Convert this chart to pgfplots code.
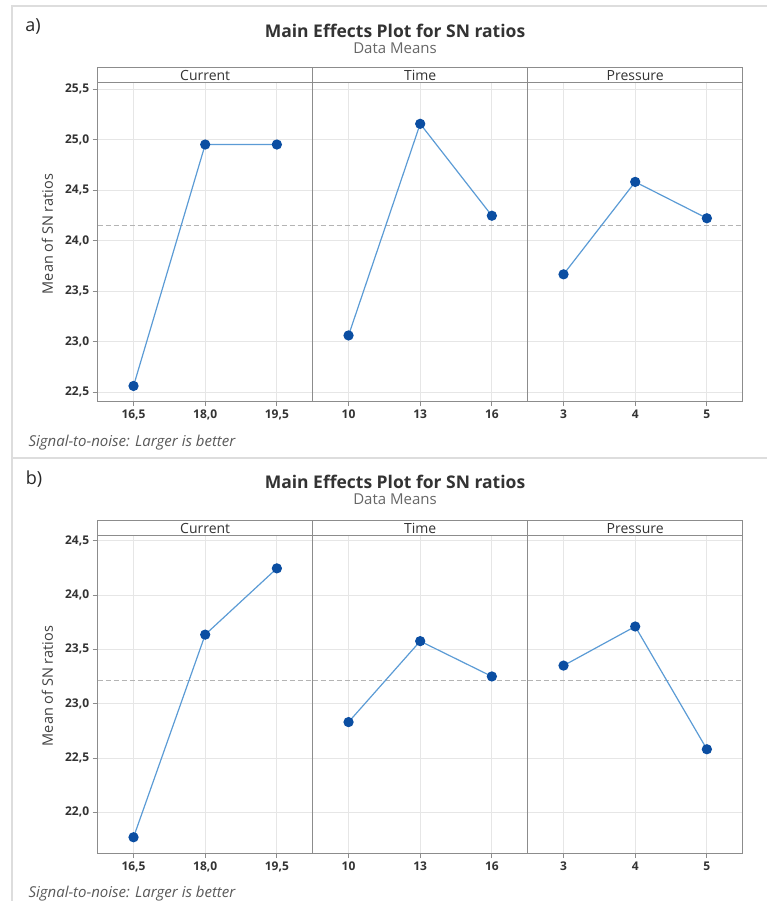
\documentclass[border=0pt]{standalone}
\usepackage{pgfplots}
\pgfplotsset{compat=1.18}
\usepackage{fontspec}
\setmainfont{Open Sans}
\definecolor{framec}{HTML}{8C8C8C}
\definecolor{gridc}{HTML}{E6E6E6}
\definecolor{lineblue}{HTML}{5B9BD5}
\definecolor{markblue}{HTML}{0B4EA2}
\definecolor{meanc}{HTML}{B4B4B4}
\definecolor{txt}{HTML}{333333}
\definecolor{borderc}{HTML}{DDDDDD}

\pgfplotsset{
 mep/.style={
  scale only axis, width=215pt, height=318pt,
  xmin=-0.5, xmax=2.5, xtick={0,1,2},
  axis line style={framec, line width=1pt},
  grid=major, major grid style={gridc, line width=0.8pt},
  tick style={framec, line width=0.8pt},
  tick align=outside, major tick length=5pt,
  xtick pos=bottom, ytick pos=left,
  ticklabel style={font=\fontsize{12}{13}\selectfont\bfseries, text=txt},
  /pgf/number format/assume math mode=true,
  yticklabel style={/pgf/number format/.cd, fixed, fixed zerofill, precision=1, use comma},
  clip=false,
 },
 mid/.style={yticklabels={}, ytick style={draw=none}},
 ser/.style={lineblue, line width=1.2pt, mark=*, mark size=4.5pt, mark options={fill=markblue, draw=markblue, solid}},
 meanl/.style={meanc, line width=1pt, dash pattern=on 5pt off 3pt, forget plot},
}
\tikzset{hdr/.style={anchor=base, font=\fontsize{14}{15}\selectfont, text=txt}}

\begin{document}
\begin{tikzpicture}[x=1pt, y=-1pt]
\useasboundingbox (0,0) rectangle (767,901);
% outer borders
\draw[borderc, line width=1.5pt] (12,901) -- (12,6) -- (767,6);
\draw[borderc, line width=1.5pt] (12,458) -- (767,458);

% ================= panel a =================
\node[font=\fontsize{18}{20}\selectfont, text=black!85] at (33,27) {a)};
\node[font=\fontsize{17.5}{19}\selectfont\bfseries, text=txt] at (395,31) {Main Effects Plot for SN ratios};
\node[font=\fontsize{15}{16}\selectfont, text=black!60] at (395,48) {Data Means};
\node[font=\fontsize{14.5}{16}\selectfont, text=black!75, rotate=90] at (47.5,234) {Mean of SN ratios};
\node[anchor=west, font=\fontsize{15}{16}\selectfont\itshape, text=black!65] at (25,443) {Signal-to-noise: Larger is better};

\begin{axis}[mep, at={(97.7pt,-401pt)}, anchor=south west,
  ymin=22.411, ymax=25.559, ytick={22.5,23,23.5,24,24.5,25,25.5},
  xticklabels={{16,5},{18,0},{19,5}}]
\addplot[meanl] coordinates {(-0.5,24.153) (2.5,24.153)};
\addplot[ser] coordinates {(0,22.56) (1,24.95) (2,24.95)};
\end{axis}
\begin{axis}[mep, mid, at={(312.7pt,-401pt)}, anchor=south west,
  ymin=22.411, ymax=25.559, ytick={22.5,23,23.5,24,24.5,25,25.5},
  xticklabels={10,13,16}]
\addplot[meanl] coordinates {(-0.5,24.153) (2.5,24.153)};
\addplot[ser] coordinates {(0,23.06) (1,25.155) (2,24.245)};
\end{axis}
\begin{axis}[mep, mid, at={(527.7pt,-401pt)}, anchor=south west,
  ymin=22.411, ymax=25.559, ytick={22.5,23,23.5,24,24.5,25,25.5},
  xticklabels={3,4,5}]
\addplot[meanl] coordinates {(-0.5,24.153) (2.5,24.153)};
\addplot[ser] coordinates {(0,23.665) (1,24.58) (2,24.22)};
\end{axis}
% strip headers a
\draw[framec, line width=1pt] (97.7,83) -- (97.7,68) -- (742.7,68) -- (742.7,83);
\draw[framec, line width=1pt] (312.7,68) -- (312.7,83) (527.7,68) -- (527.7,83);
\draw[framec, line width=1pt] (97.7,83) -- (742.7,83);
\node[hdr] at (205.2,81) {Current};
\node[hdr] at (420.2,81) {Time};
\node[hdr] at (635.2,81) {Pressure};

% ================= panel b =================
\node[font=\fontsize{18}{20}\selectfont, text=black!85] at (34,479) {b)};
\node[font=\fontsize{17.5}{19}\selectfont\bfseries, text=txt] at (395,482) {Main Effects Plot for SN ratios};
\node[font=\fontsize{15}{16}\selectfont, text=black!60] at (395,499) {Data Means};
\node[font=\fontsize{14.5}{16}\selectfont, text=black!75, rotate=90] at (47.5,686) {Mean of SN ratios};
\node[anchor=west, font=\fontsize{15}{16}\selectfont\itshape, text=black!65] at (25,894) {Signal-to-noise: Larger is better};

\begin{axis}[mep, at={(97.7pt,-853pt)}, anchor=south west,
  ymin=21.625, ymax=24.552, ytick={22,22.5,23,23.5,24,24.5},
  xticklabels={{16,5},{18,0},{19,5}}]
\addplot[meanl] coordinates {(-0.5,23.217) (2.5,23.217)};
\addplot[ser] coordinates {(0,21.77) (1,23.635) (2,24.245)};
\end{axis}
\begin{axis}[mep, mid, at={(312.7pt,-853pt)}, anchor=south west,
  ymin=21.625, ymax=24.552, ytick={22,22.5,23,23.5,24,24.5},
  xticklabels={10,13,16}]
\addplot[meanl] coordinates {(-0.5,23.217) (2.5,23.217)};
\addplot[ser] coordinates {(0,22.83) (1,23.575) (2,23.25)};
\end{axis}
\begin{axis}[mep, mid, at={(527.7pt,-853pt)}, anchor=south west,
  ymin=21.625, ymax=24.552, ytick={22,22.5,23,23.5,24,24.5},
  xticklabels={3,4,5}]
\addplot[meanl] coordinates {(-0.5,23.217) (2.5,23.217)};
\addplot[ser] coordinates {(0,23.35) (1,23.71) (2,22.58)};
\end{axis}
% strip headers b
\draw[framec, line width=1pt] (97.7,535) -- (97.7,520) -- (742.7,520) -- (742.7,535);
\draw[framec, line width=1pt] (312.7,520) -- (312.7,535) (527.7,520) -- (527.7,535);
\draw[framec, line width=1pt] (97.7,535) -- (742.7,535);
\node[hdr] at (205.2,533) {Current};
\node[hdr] at (420.2,533) {Time};
\node[hdr] at (635.2,533) {Pressure};
\end{tikzpicture}
\end{document}
